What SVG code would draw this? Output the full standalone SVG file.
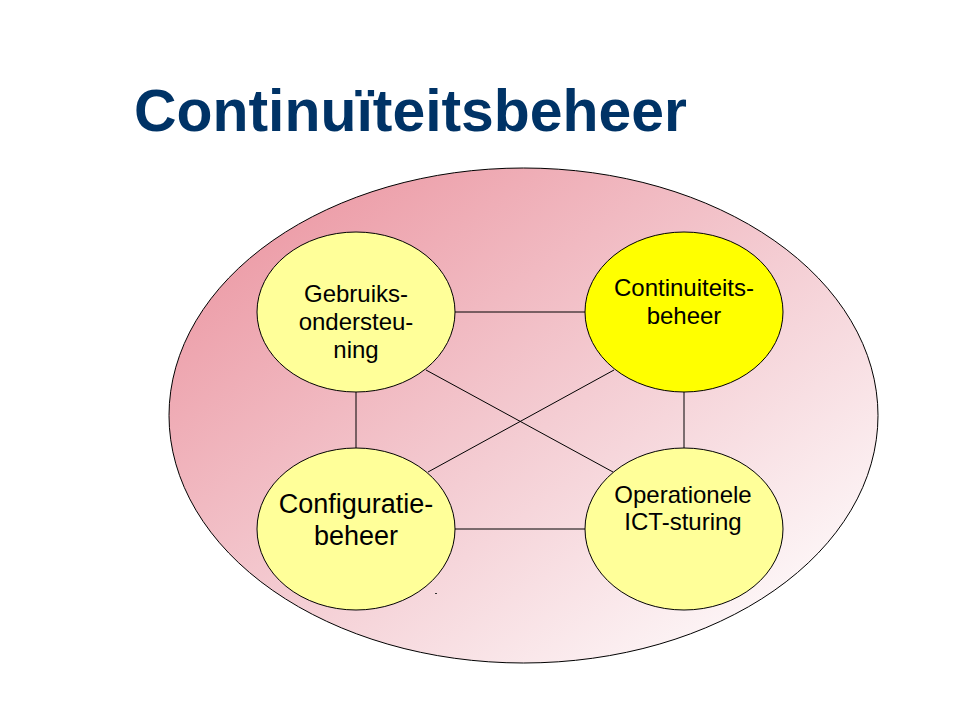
<svg xmlns="http://www.w3.org/2000/svg" width="960" height="720" viewBox="0 0 960 720">
<defs>
<linearGradient id="bg" x1="0.1" y1="0.1" x2="0.95" y2="0.95">
<stop offset="0" stop-color="#EC9AA5"/>
<stop offset="0.5" stop-color="#F4CDD3"/>
<stop offset="1" stop-color="#FFFFFF"/>
</linearGradient>
<style>
.node{stroke:#000;stroke-width:1}
.pale{fill:#FFFF99}
.bright{fill:#FFFF00}
.lbl{font-family:"Liberation Sans",Arial,sans-serif;fill:#000;text-anchor:middle}
.conn line{stroke:#000;stroke-width:1}
</style>
</defs>
<rect width="960" height="720" fill="#FFFFFF"/>
<text x="134" y="131" font-family="Liberation Sans,Arial,sans-serif" font-weight="bold" font-size="59" fill="#003366" textLength="553" lengthAdjust="spacingAndGlyphs">Continuïteitsbeheer</text>
<g id="outer">
<ellipse cx="523.5" cy="415.5" rx="354.5" ry="247.5" fill="url(#bg)" stroke="#000" stroke-width="1"/>
</g>
<g id="connectors" class="conn">
<line x1="455" y1="312" x2="585" y2="312"/>
<line x1="455" y1="529" x2="585" y2="529"/>
<line x1="356" y1="392" x2="356" y2="449"/>
<line x1="684" y1="392" x2="684" y2="449"/>
<line x1="426" y1="370" x2="613" y2="472"/>
<line x1="614" y1="370" x2="428" y2="472"/>
</g>
<g id="node-gebruiks">
<ellipse class="node pale" cx="356" cy="312" rx="99" ry="80"/>
<text class="lbl" font-size="24" x="356" y="302">Gebruiks-</text>
<text class="lbl" font-size="24" x="356" y="330">ondersteu-</text>
<text class="lbl" font-size="24" x="356" y="358">ning</text>
</g>
<g id="node-continuiteits">
<ellipse class="node bright" cx="684" cy="312" rx="99" ry="80"/>
<text class="lbl" font-size="24" x="684" y="296">Continuiteits-</text>
<text class="lbl" font-size="24" x="684" y="324">beheer</text>
</g>
<g id="node-configuratie">
<ellipse class="node pale" cx="356" cy="529" rx="99" ry="81"/>
<text class="lbl" font-size="27" x="356" y="513">Configuratie-</text>
<text class="lbl" font-size="27" x="356" y="545">beheer</text>
</g>
<g id="node-operationele">
<ellipse class="node pale" cx="684" cy="529" rx="99" ry="81"/>
<text class="lbl" font-size="24" x="683" y="503">Operationele</text>
<text class="lbl" font-size="24" x="683" y="530">ICT-sturing</text>
</g>
<rect x="435" y="593" width="2" height="1" fill="#333"/>
</svg>
